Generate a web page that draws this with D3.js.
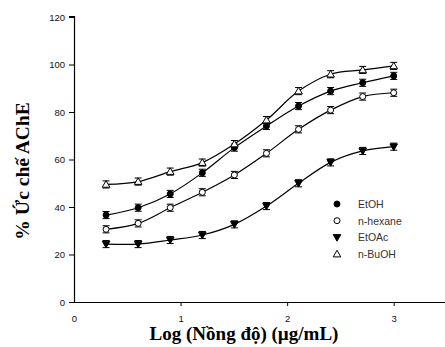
<!DOCTYPE html>
<html>
<head>
<meta charset="utf-8">
<script src="https://cdn.jsdelivr.net/npm/d3@7"></script>
<style>
  body { margin: 0; background: #fff; }
  svg { display: block; }
</style>
</head>
<body>
<div id="chart"></div>
<script>
const logConc = [0.301, 0.602, 0.903, 1.204, 1.505, 1.806, 2.107, 2.408, 2.709, 3.0];
const etoh    = [36.6, 39.7, 45.5, 54.4, 65.0, 74.1, 82.5, 88.8, 92.3, 95.2];
const hexane  = [30.6, 33.1, 39.7, 46.2, 53.5, 62.6, 72.7, 80.8, 86.5, 88.1];
const etoac   = [24.4, 24.4, 26.1, 28.2, 32.7, 40.4, 50.0, 58.8, 63.6, 65.4];
const buoh    = [49.5, 50.7, 54.9, 58.7, 66.5, 76.6, 88.8, 95.9, 97.7, 99.4];
const errs    = [1.5, 1.5, 1.5, 1.5, 1.5, 1.5, 1.5, 1.5, 1.5, 1.5];
const seriesNames = ["EtOH", "n-hexane", "EtOAc", "n-BuOH"];
const xTicks = [0, 1, 2, 3];
const yTicks = [0, 20, 40, 60, 80, 100, 120];

const width = 445, height = 347;
const svg = d3.select("#chart").append("svg")
  .attr("width", width).attr("height", height);

const x = d3.scaleLinear().domain([0, 3.5]).range([74, 447]);
const y = d3.scaleLinear().domain([0, 120]).range([302, 17]);

// axes
const yAxis = svg.append("g")
  .attr("transform", "translate(74,0)")
  .call(d3.axisLeft(y).tickValues(yTicks).tickSize(5).tickPadding(4));
const xAxis = svg.append("g")
  .attr("transform", "translate(0,302)")
  .call(d3.axisBottom(x).tickValues(xTicks).tickFormat(d3.format("d"))
    .tickSize(4).tickPadding(9).tickSizeOuter(0));
[xAxis, yAxis].forEach(a => {
  a.select(".domain").attr("stroke", "#000").attr("stroke-width", 1.2);
  a.selectAll(".tick line").attr("stroke", "#000");
  a.selectAll("text").attr("font-family", "Liberation Sans, Arial, sans-serif")
    .attr("font-size", 9.5).attr("fill", "#111");
});
xAxis.selectAll(".tick").filter(d => d === 0).select("line").remove();
yAxis.select(".domain").attr("d", "M-5,302.5H0.5V16.5H-5");

// axis titles
svg.append("text")
  .attr("x", 244).attr("y", 340)
  .attr("text-anchor", "middle")
  .attr("font-family", "Liberation Serif, Times New Roman, serif")
  .attr("font-weight", "bold").attr("font-size", 19)
  .text("Log (Nồng độ) (µg/mL)");
svg.append("text")
  .attr("transform", "translate(29,171) rotate(-90)")
  .attr("text-anchor", "middle")
  .attr("font-family", "Liberation Serif, Times New Roman, serif")
  .attr("font-weight", "bold").attr("font-size", 19.5)
  .text("% Ức chế AChE");

const series = [
  { name: seriesNames[0], values: etoh,   sym: "circle",  fill: "#000" },
  { name: seriesNames[1], values: hexane, sym: "circle",  fill: "#fff" },
  { name: seriesNames[2], values: etoac,  sym: "down",    fill: "#000" },
  { name: seriesNames[3], values: buoh,   sym: "up",      fill: "#fff" }
];

const line = d3.line()
  .x((d, i) => x(logConc[i]))
  .y(d => y(d))
  .curve(d3.curveCatmullRom.alpha(0.5));

function marker(g, sym, fill) {
  if (sym === "circle") {
    g.append("circle").attr("r", 3).attr("fill", fill)
      .attr("stroke", "#000").attr("stroke-width", 1);
  } else {
    const s = sym === "up" ? 1 : -1;
    g.append("path")
      .attr("d", `M0,${-3.8 * s}L3.8,${2.8 * s}L-3.8,${2.8 * s}Z`)
      .attr("fill", fill).attr("stroke", "#000").attr("stroke-width", 1);
  }
}

series.forEach(s => {
  svg.append("path").datum(s.values)
    .attr("d", line).attr("fill", "none")
    .attr("stroke", "#000").attr("stroke-width", 1.2);
  const pts = svg.append("g").selectAll("g").data(s.values).join("g")
    .attr("transform", (d, i) => `translate(${x(logConc[i])},${y(d)})`);
  pts.each(function(d, i) {
    const g = d3.select(this);
    const e = errs[i];
    const dy = y(d - e) - y(d);
    g.append("path")
      .attr("d", `M0,${-dy}V${dy}M-3.5,${-dy}H3.5M-3.5,${dy}H3.5`)
      .attr("stroke", "#000").attr("stroke-width", 1);
    marker(g, s.sym, s.fill);
  });
});

// legend
const legend = svg.append("g");
series.forEach((s, i) => {
  const ly = 204 + i * 16.7;
  const g = legend.append("g").attr("transform", `translate(337,${ly})`);
  marker(g, s.sym, s.fill);
  legend.append("text")
    .attr("x", 358).attr("y", ly + 4)
    .attr("font-family", "Liberation Sans, Arial, sans-serif")
    .attr("font-size", 10.5).attr("fill", "#333")
    .text(s.name);
});
</script>
</body>
</html>
